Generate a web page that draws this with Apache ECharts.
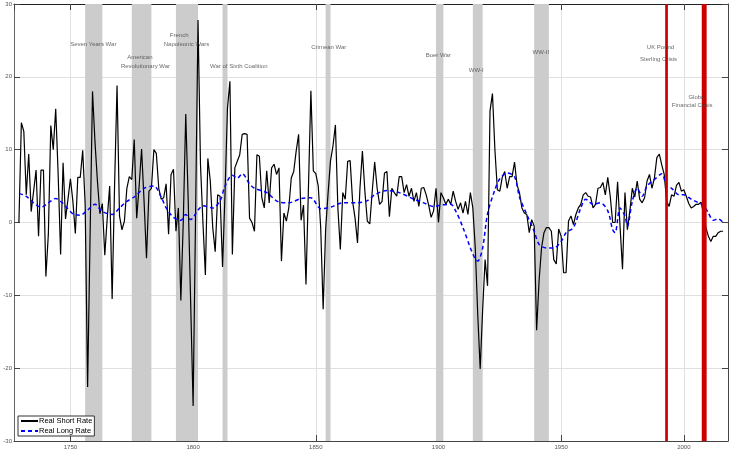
<!DOCTYPE html>
<html lang="en">
<head>
    <meta charset="UTF-8">
    <title>Real Short and Long Rates</title>
    <style>
        html, body { margin: 0; padding: 0; background: #fff; }
    </style>
</head>
<body>
<div class="main" style="width: 731px;height: 450px;"></div>
<script src="https://cdn.jsdelivr.net/npm/echarts@6/dist/echarts.min.js"></script>
<script>
    // annual real short rate, first value is 1729
    var shortStart = 1729;
    var shortRate = [
        0.0, 13.7, 12.5, 3.8, 9.4, 1.5, 4.3, 7.2, -1.9, 7.2,
        7.2, -7.4, -1.6, 13.3, 10.0, 15.6, 6.6, -4.4, 8.2, 0.5,
        3.2, 6.0, 2.9, -1.5, 6.2, 6.2, 9.9, 2.5, -22.6, -2.0,
        18.0, 11.1, 5.7, 1.2, 2.6, -4.5, 0.6, 5.0, -10.5, 5.2,
        18.8, 0.9, -1.0, 0.2, 4.7, 6.3, 5.9, 11.4, 0.6, 5.0,
        10.1, 3.0, -4.9, 4.3, 4.7, 10.0, 9.5, 4.7, 3.2, 3.4,
        5.3, -1.6, 6.6, 7.3, -1.2, 2.0, -10.7, 0.2, 14.9, 3.0,
        -11.0, -25.2, 1.0, 27.8, 8.0, 0.0, -7.2, 8.8, 5.7, -0.7,
        -4.0, 3.8, 3.6, -6.1, 4.0, 15.7, 19.4, -4.4, 7.5, 8.4,
        9.3, 12.1, 12.2, 12.1, 0.6, 0.0, -1.2, 9.3, 9.1, 3.4,
        2.0, 7.1, 2.7, 7.5, 8.0, 6.6, 7.5, -5.3, 1.3, 0.2,
        2.0, 6.1, 7.0, 9.8, 12.1, 0.3, 2.4, -8.5, 4.7, 18.1,
        7.1, 6.7, 5.0, -0.7, -11.9, -1.0, 4.0, 8.5, 10.5, 13.4,
        2.0, -3.7, 4.1, 3.2, 8.4, 8.5, 2.9, 0.6, -2.8, 4.7,
        9.8, 4.3, 0.2, -0.2, 4.3, 8.3, 4.7, 2.5, 2.9, 6.8,
        7.0, 0.8, 4.7, 4.1, 3.6, 6.3, 6.3, 4.1, 5.2, 3.6,
        4.7, 2.9, 4.1, 2.2, 4.7, 4.8, 3.8, 2.4, 0.7, 1.6,
        4.7, 0.0, 4.1, 3.4, 2.5, 3.2, 2.5, 4.3, 2.9, 1.8,
        2.7, 1.3, 2.9, 1.1, 4.1, 2.0, -3.5, -12.6, -20.1, -12.0,
        -5.1, -8.7, 15.3, 17.7, 10.0, 4.5, 4.3, 6.2, 7.0, 4.7,
        6.3, 6.3, 8.3, 5.2, 4.1, 2.0, 1.3, 1.1, -1.4, 0.4,
        -0.5, -14.8, -8.0, -3.5, -1.4, -0.7, -0.7, -1.2, -5.1, -5.7,
        -0.9, -1.9, -6.9, -6.9, 0.2, 0.9, -0.3, 1.1, 2.0, 2.5,
        3.8, 4.1, 3.6, 3.5, 2.0, 2.5, 4.7, 4.8, 5.5, 3.8,
        6.2, 3.6, 0.0, 0.0, 5.6, -0.5, -6.4, 4.1, -1.0, 1.6,
        4.7, 3.5, 5.7, 3.2, 2.7, 3.4, 5.7, 6.6, 4.7, 6.1,
        8.9, 9.4, 7.9, 6.6, 2.9, 2.2, 3.8, 3.6, 5.1, 5.5,
        4.3, 4.5, 3.6, 2.6, 2.0, 2.2, 2.5, 2.5, 2.8, 1.3,
        -0.7, -1.9, -2.6, -1.9, -1.9, -1.4, -1.2, -1.2
    ];

    // real long rate, read at these years
    var longYears = [
        1729, 1732, 1735, 1738, 1741, 1744, 1747, 1751, 1754, 1757,
        1760, 1763, 1767, 1770, 1773, 1776, 1780, 1784, 1787, 1789,
        1792, 1795, 1797, 1799, 1802, 1804, 1808, 1811, 1813, 1816,
        1818, 1820, 1823, 1825, 1830, 1835, 1839, 1844, 1848, 1852,
        1856, 1861, 1867, 1871, 1874, 1879, 1884, 1890, 1894, 1898,
        1901, 1905, 1907, 1910, 1913, 1915, 1916, 1918, 1920, 1923,
        1925, 1928, 1931, 1933, 1936, 1939, 1941, 1944, 1947, 1950,
        1952, 1955, 1958, 1960, 1963, 1966, 1969, 1971, 1972, 1974,
        1976, 1977, 1979, 1981, 1983, 1985, 1988, 1991, 1993, 1995,
        1998, 2000, 2003, 2006, 2008, 2010, 2012, 2014, 2016
    ];
    var longRate = [
        4.0, 3.6, 2.7, 2.1, 2.7, 3.3, 2.6, 1.2, 1.0, 1.7,
        2.5, 1.5, 1.1, 2.0, 2.9, 3.5, 4.7, 5.0, 3.5, 2.0,
        0.7, 0.3, 1.1, 0.4, 1.7, 2.3, 2.0, 3.0, 5.0, 6.5,
        6.1, 6.7, 5.3, 4.7, 4.1, 2.8, 2.7, 3.3, 3.4, 1.9,
        2.1, 2.7, 2.7, 3.0, 3.8, 4.4, 4.1, 3.2, 2.7, 2.2,
        2.4, 2.5, 1.6, -0.7, -3.5, -5.0, -5.3, -3.5, 1.2, 4.5,
        6.0, 6.8, 6.3, 3.5, 1.1, -1.2, -3.0, -3.5, -3.5, -2.6,
        -1.4, -0.7, 2.0, 3.2, 2.5, 2.7, 1.6, -1.0, -1.4, 2.0,
        0.9, -0.5, 2.9, 4.7, 3.6, 5.0, 5.9, 6.7, 5.0, 4.7,
        3.8, 3.8, 3.2, 2.7, 2.4, 1.3, 0.3, 0.5, 0.0
    ];

    // shaded periods [from, to]
    var warBands = [
        [1756, 1763], [1775, 1783], [1793, 1802], [1812, 1814],
        [1854, 1856], [1899, 1902], [1914, 1918], [1939, 1945]
    ];
    var crisisBands = [[1992.4, 1993.5], [2007.3, 2009.3]];

    // annotation texts with year / value anchor
    var noteText = [
        'Seven Years War', 'American', 'Revolutionary War', 'French', 'Napoleonic Wars',
        'War of Sixth Coalition', 'Crimean War', 'Boer War', 'WW-I', 'WW-II',
        'UK Pound', 'Sterling Crisis', 'Global', 'Financial Crisis'
    ];
    var noteYear = [1759.3, 1778.3, 1780.6, 1794.3, 1797.3, 1818.6, 1855.3, 1899.9, 1915.4, 1941.7,
        1990.5, 1989.7, 2005.4, 2003.4];
    var noteValue = [24.5, 22.7, 21.5, 25.7, 24.5, 21.5, 24.0, 23.0, 20.9, 23.3,
        24.1, 22.4, 17.2, 16.1];

    var shortData = shortRate.map(function (v, i) { return [shortStart + i, v]; });
    var longData = longYears.map(function (y, i) { return [y, longRate[i]]; });
    var noteData = noteText.map(function (t, i) { return [noteYear[i], noteValue[i], t]; });

    var font = 'Liberation Sans, Arial, sans-serif';
    var axisColor = '#444';

    var main = document.querySelector('.main');
    var chart = echarts.init(main);

    var option = {
        animation: false,
        backgroundColor: '#fff',
        grid: { left: 14, right: 3, top: 4, bottom: 9 },
        legend: {
            left: 18,
            top: 416,
            orient: 'vertical',
            data: ['Real Short Rate', 'Real Long Rate'],
            itemWidth: 17,
            itemHeight: 8,
            itemGap: 2,
            padding: [1, 2, 1, 2],
            borderColor: '#333',
            borderWidth: 1,
            backgroundColor: '#fff',
            itemStyle: { opacity: 0 },
            textStyle: { fontSize: 7.5, color: '#000', fontFamily: font, padding: [0, 0, 0, -4] }
        },
        xAxis: [{
            type: 'value',
            min: 1727,
            max: 2018,
            splitNumber: 5,
            axisLine: { show: true, onZero: false, lineStyle: { color: axisColor } },
            axisTick: { show: true, inside: true, length: 6, lineStyle: { color: axisColor } },
            axisLabel: {
                showMinLabel: false, showMaxLabel: false,
                formatter: function (v) { return String(v); },
                fontSize: 6, color: '#555', fontFamily: font, margin: 3
            },
            splitLine: { show: true, lineStyle: { color: '#e0e0e0', width: 1 } }
        }, {
            type: 'value',
            position: 'top',
            min: 1727,
            max: 2018,
            splitNumber: 5,
            axisLine: { show: true, onZero: false, lineStyle: { color: '#222' } },
            axisTick: { show: true, inside: true, length: 6, lineStyle: { color: axisColor } },
            axisLabel: { show: false },
            splitLine: { show: false }
        }],
        yAxis: [{
            type: 'value',
            min: -30,
            max: 30,
            interval: 10,
            axisLine: { show: true, onZero: false, lineStyle: { color: '#666' } },
            axisTick: { show: true, inside: true, length: 6, lineStyle: { color: axisColor } },
            axisLabel: { fontSize: 6, color: '#555', fontFamily: font, margin: 2 },
            splitLine: { show: true, lineStyle: { color: '#e0e0e0', width: 1 } }
        }, {
            type: 'value',
            position: 'right',
            min: -30,
            max: 30,
            interval: 10,
            axisLine: { show: true, onZero: false, lineStyle: { color: axisColor } },
            axisTick: { show: true, inside: true, length: 6, lineStyle: { color: axisColor } },
            axisLabel: { show: false },
            splitLine: { show: false }
        }],
        series: [
            {
                name: 'Real Short Rate',
                type: 'line',
                symbol: 'none',
                data: shortData,
                lineStyle: { color: '#000', width: 1.2 },
                itemStyle: { color: '#000' },
                z: 3,
                markArea: {
                    silent: true,
                    z: 1,
                    itemStyle: { color: '#cccccc' },
                    data: warBands.map(function (b) { return [{ xAxis: b[0] }, { xAxis: b[1] }]; })
                }
            },
            {
                name: 'Real Long Rate',
                type: 'line',
                symbol: 'none',
                smooth: 0.3,
                data: longData,
                lineStyle: { color: '#0000ff', width: 1.5, type: [4, 3] },
                itemStyle: { color: '#0000ff' },
                z: 4
            },
            {
                name: 'crisis',
                type: 'line',
                symbol: 'none',
                data: [],
                markArea: {
                    silent: true,
                    z: 6,
                    itemStyle: { color: '#cc0000' },
                    data: crisisBands.map(function (b) { return [{ xAxis: b[0] }, { xAxis: b[1] }]; })
                }
            },
            {
                name: 'notes',
                type: 'scatter',
                symbolSize: 0,
                silent: true,
                z: 10,
                data: noteData,
                label: {
                    show: true,
                    position: 'inside',
                    formatter: function (p) { return p.data[2]; },
                    fontSize: 6,
                    color: '#444',
                    fontFamily: font
                }
            }
        ]
    };
    chart.setOption(option);
</script>
</body>
</html>
